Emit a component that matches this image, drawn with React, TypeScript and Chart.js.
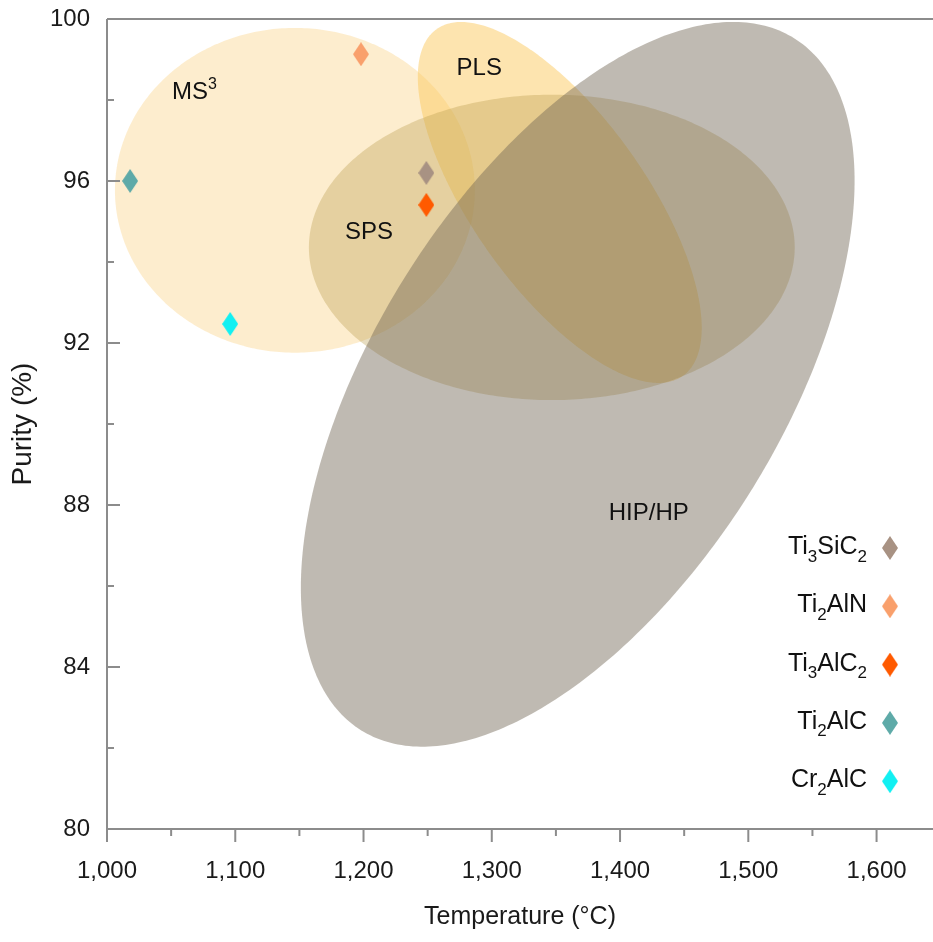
import React, { useEffect, useRef } from 'react';
import { Chart, registerables } from 'chart.js';

Chart.register(...registerables);

const FONT = '"Liberation Sans", Arial, Helvetica, sans-serif';

// ---- compounds (scatter points) ----
const compoundLabels = ['Ti_3SiC_2', 'Ti_2AlN', 'Ti_3AlC_2', 'Ti_2AlC', 'Cr_2AlC'];
const compoundTemperature = [1249, 1198, 1249, 1018, 1096];
const compoundPurity = [96.2, 99.13, 95.41, 96.0, 92.47];
const compoundColors = ['#a89283', '#f9a06c', '#ff5a00', '#5eaaa8', '#12f0f2'];

// ---- processing-route regions (ellipses, data units) ----
const regionLabels = ['MS^3', 'PLS', 'SPS', 'HIP/HP'];
const regionCenterTemperature = [1146.5, 1353, 1346.8, 1367];
const regionCenterPurity = [95.77, 95.47, 94.36, 90.98];
const regionAxisATemperature = [140.3, 96.0, 189.4, 169.0];
const regionAxisAPurity = [0, -4.28, 0, 8.54];
const regionAxisBTemperature = [0, 55.1, 0, -134.3];
const regionAxisBPurity = [4.01, 1.24, 3.77, 2.67];
const regionLabelTemperature = [1068.2, 1290.2, 1204.2, 1422.4];
const regionLabelPurity = [98.25, 98.84, 94.79, 87.84];
const regionColors = [
  'rgba(250,210,132,0.4)',
  'rgba(251,201,95,0.5)',
  'rgba(182,154,75,0.35)',
  'rgba(113,102,84,0.45)',
];

// ---- ticks ----
const xMajorTicks = [1000, 1100, 1200, 1300, 1400, 1500, 1600];
const xMinorTicks = [1050, 1150, 1250, 1350, 1450, 1550];
const xTickLabels = ['1,000', '1,100', '1,200', '1,300', '1,400', '1,500', '1,600'];
const yMajorTicks = [80, 84, 88, 92, 96, 100];
const yMinorTicks = [82, 86, 90, 94, 98];
const yTickLabels = ['80', '84', '88', '92', '96', '100'];

const X_MIN = 1000;
const X_MAX = 1644;
const Y_MIN = 80;
const Y_MAX = 100;

type Seg = { t: string; mode: 'n' | 'sub' | 'sup' };
function parseRich(s: string): Seg[] {
  const segs: Seg[] = [];
  for (let i = 0; i < s.length; i++) {
    const c = s[i];
    if ((c === '_' || c === '^') && i + 1 < s.length) {
      segs.push({ t: s[i + 1], mode: c === '_' ? 'sub' : 'sup' });
      i++;
    } else {
      const last = segs[segs.length - 1];
      if (last && last.mode === 'n') last.t += c;
      else segs.push({ t: c, mode: 'n' });
    }
  }
  return segs;
}

function drawRich(ctx: CanvasRenderingContext2D, s: string, x: number, y: number, size: number, align: 'left' | 'center' | 'right') {
  const segs = parseRich(s);
  const small = Math.round(size * 0.68);
  const widths = segs.map((sg) => {
    ctx.font = `${sg.mode === 'n' ? size : small}px ${FONT}`;
    return ctx.measureText(sg.t).width;
  });
  const total = widths.reduce((a, b) => a + b, 0);
  let cx = align === 'left' ? x : align === 'center' ? x - total / 2 : x - total;
  ctx.textAlign = 'left';
  ctx.textBaseline = 'alphabetic';
  segs.forEach((sg, i) => {
    ctx.font = `${sg.mode === 'n' ? size : small}px ${FONT}`;
    const dy = sg.mode === 'sub' ? size * 0.3 : sg.mode === 'sup' ? -size * 0.4 : 0;
    ctx.fillText(sg.t, cx, y + dy);
    cx += widths[i];
  });
}

function makeDiamond(color: string): HTMLCanvasElement {
  const c = document.createElement('canvas');
  c.width = 16;
  c.height = 24;
  const g = c.getContext('2d')!;
  g.fillStyle = color;
  g.beginPath();
  g.moveTo(8, 0);
  g.lineTo(16, 12);
  g.lineTo(8, 24);
  g.lineTo(0, 12);
  g.closePath();
  g.fill();
  return c;
}

export default function App() {
  const ref = useRef<HTMLCanvasElement | null>(null);

  useEffect(() => {
    const canvas = ref.current;
    if (!canvas) return;
    const diamonds = compoundColors.map(makeDiamond);

    const regionPlugin = {
      id: 'regions',
      beforeDatasetsDraw(chart: any) {
        const { ctx, scales } = chart;
        const xs = scales.x;
        const ys = scales.y;
        ctx.save();
        for (let r = 0; r < regionLabels.length; r++) {
          ctx.beginPath();
          const N = 360;
          for (let k = 0; k <= N; k++) {
            const t = (k / N) * Math.PI * 2;
            const tv = regionCenterTemperature[r] + regionAxisATemperature[r] * Math.cos(t) + regionAxisBTemperature[r] * Math.sin(t);
            const pv = regionCenterPurity[r] + regionAxisAPurity[r] * Math.cos(t) + regionAxisBPurity[r] * Math.sin(t);
            const px = xs.getPixelForValue(tv);
            const py = ys.getPixelForValue(pv);
            if (k === 0) ctx.moveTo(px, py);
            else ctx.lineTo(px, py);
          }
          ctx.closePath();
          ctx.fillStyle = regionColors[r];
          ctx.fill();
        }
        ctx.fillStyle = '#111111';
        for (let r = 0; r < regionLabels.length; r++) {
          drawRich(
            ctx,
            regionLabels[r],
            xs.getPixelForValue(regionLabelTemperature[r]),
            ys.getPixelForValue(regionLabelPurity[r]) + 24 * 0.36,
            24,
            'center'
          );
        }
        ctx.restore();
      },
      afterDraw(chart: any) {
        const { ctx, chartArea, scales } = chart;
        const { left, right, top, bottom } = chartArea;
        const xs = scales.x;
        const ys = scales.y;
        ctx.save();
        ctx.strokeStyle = '#8c8c8c';
        ctx.lineWidth = 2;
        const line = (x1: number, y1: number, x2: number, y2: number) => {
          ctx.beginPath();
          ctx.moveTo(x1, y1);
          ctx.lineTo(x2, y2);
          ctx.stroke();
        };
        line(left, top, right, top);
        line(left, top, left, bottom + 13);
        line(left, bottom, right, bottom);
        yMajorTicks.forEach((v) => { const p = ys.getPixelForValue(v); line(left, p, left + 13, p); });
        yMinorTicks.forEach((v) => { const p = ys.getPixelForValue(v); line(left, p, left + 7, p); });
        xMajorTicks.forEach((v) => { const p = xs.getPixelForValue(v); line(p, bottom, p, bottom + 13); });
        xMinorTicks.forEach((v) => { const p = xs.getPixelForValue(v); line(p, bottom, p, bottom + 7); });

        // legend
        const textRight = right - 66;
        const markerX = right - 43;
        const firstRow = bottom - 281;
        const rowGap = 58.3;
        compoundLabels.forEach((lab, i) => {
          const cy = firstRow + i * rowGap;
          ctx.fillStyle = '#111111';
          drawRich(ctx, lab, textRight, cy + 6, 25, 'right');
          const d = diamonds[i];
          ctx.drawImage(d, markerX - d.width / 2, cy - d.height / 2);
        });
        ctx.restore();
      },
    };

    const tickFont = { family: FONT, size: 24 };
    const chart = new Chart(canvas, {
      type: 'scatter',
      data: {
        datasets: compoundLabels.map((lab, i) => ({
          label: lab.replace(/[_^]/g, ''),
          data: [{ x: compoundTemperature[i], y: compoundPurity[i] }],
          pointStyle: diamonds[i] as any,
          backgroundColor: compoundColors[i],
          borderColor: compoundColors[i],
        })),
      },
      options: {
        animation: false,
        responsive: false,
        devicePixelRatio: 1,
        layout: { autoPadding: false, padding: { top: 19, left: 0, right: 0, bottom: 0 } },
        plugins: { legend: { display: false }, tooltip: { enabled: false } },
        scales: {
          x: {
            type: 'linear',
            min: X_MIN,
            max: X_MAX,
            afterFit: (s: any) => { s.height = 113; s.paddingLeft = 0; s.paddingRight = 0; },
            afterBuildTicks: (s: any) => { s.ticks = xMajorTicks.map((v) => ({ value: v })); },
            grid: { display: false, drawTicks: false },
            border: { display: false },
            ticks: {
              autoSkip: false,
              maxRotation: 0,
              padding: 28,
              color: '#1a1a1a',
              font: tickFont,
              callback: (v: any) => xTickLabels[xMajorTicks.indexOf(Number(v))] ?? '',
            },
            title: {
              display: true,
              text: 'Temperature (°C)',
              color: '#1a1a1a',
              font: { family: FONT, size: 25 },
              padding: { top: 0, bottom: 10 },
            },
          },
          y: {
            type: 'linear',
            min: Y_MIN,
            max: Y_MAX,
            afterFit: (s: any) => { s.width = 107; s.paddingTop = 0; s.paddingBottom = 0; },
            afterBuildTicks: (s: any) => { s.ticks = yMajorTicks.map((v) => ({ value: v })); },
            grid: { display: false, drawTicks: false },
            border: { display: false },
            ticks: {
              autoSkip: false,
              padding: 17,
              color: '#1a1a1a',
              font: tickFont,
              callback: (v: any) => yTickLabels[yMajorTicks.indexOf(Number(v))] ?? '',
            },
            title: {
              display: true,
              text: 'Purity (%)',
              color: '#1a1a1a',
              font: { family: FONT, size: 28 },
              padding: { top: 6, bottom: 0 },
            },
          },
        },
      },
      plugins: [regionPlugin],
    });
    return () => chart.destroy();
  }, []);

  return (
    <div style={{ position: 'fixed', left: 0, top: 0, width: 933, height: 942, background: '#fff' }}>
      <canvas ref={ref} width={933} height={942} style={{ display: 'block', width: 933, height: 942 }} />
    </div>
  );
}
